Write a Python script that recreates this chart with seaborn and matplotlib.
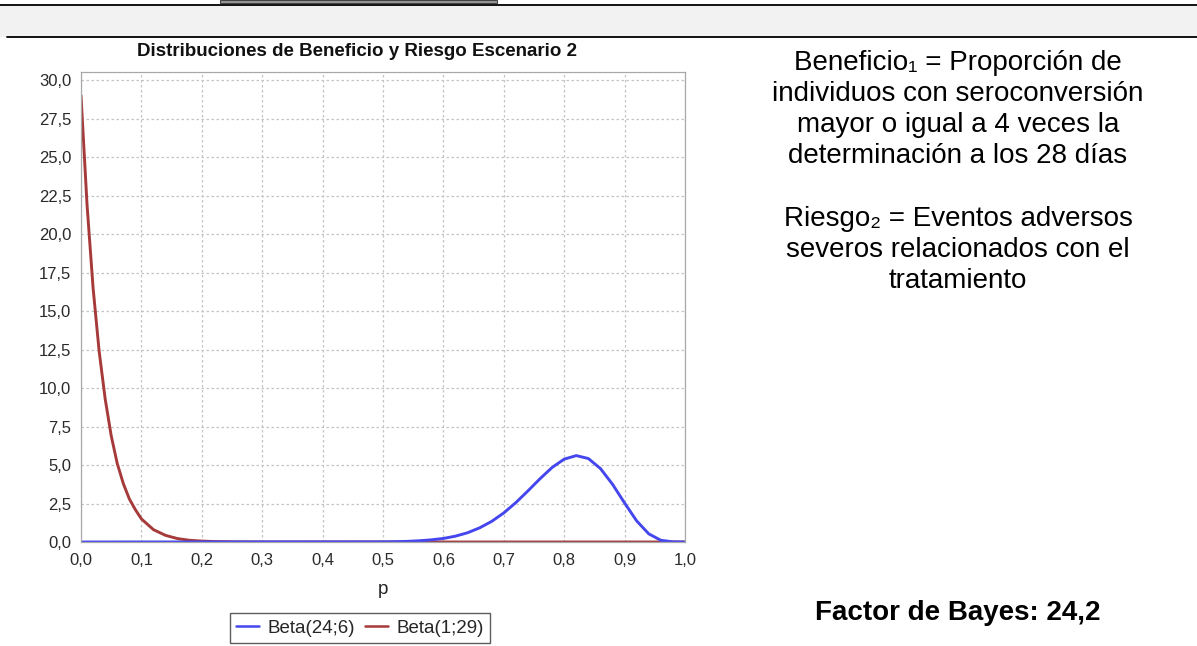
import pandas as pd
import numpy as np
import matplotlib
matplotlib.use("Agg")
import matplotlib.pyplot as plt
import seaborn as sns
from matplotlib.patches import Rectangle
from matplotlib.lines import Line2D

# curvas (densidad vs p)
p_beneficio = [0.00, 0.50, 0.52, 0.54, 0.56, 0.58, 0.60, 0.62, 0.64, 0.66, 0.68,
               0.70, 0.72, 0.74, 0.76, 0.78, 0.80, 0.82, 0.84, 0.86, 0.88, 0.90,
               0.92, 0.94, 0.96, 0.98, 1.00]
d_beneficio = [0.0, 0.01, 0.02, 0.04, 0.08, 0.14, 0.23, 0.38, 0.60, 0.92, 1.34,
               1.89, 2.56, 3.32, 4.11, 4.84, 5.38, 5.61, 5.42, 4.77, 3.75, 2.53,
               1.37, 0.53, 0.11, 0.01, 0.0]

p_riesgo = [0.00, 0.01, 0.02, 0.03, 0.04, 0.05, 0.06, 0.07, 0.08, 0.09, 0.10,
            0.12, 0.14, 0.16, 0.18, 0.20, 0.22, 0.25, 0.30, 1.00]
d_riesgo = [29.0, 21.9, 16.5, 12.4, 9.3, 6.9, 5.1, 3.8, 2.8, 2.1, 1.5,
            0.8, 0.43, 0.22, 0.11, 0.06, 0.03, 0.01, 0.0, 0.0]

series = ["Beta(24;6)", "Beta(1;29)"]
colores = {"Beta(24;6)": "#4646ee", "Beta(1;29)": "#a63a3a"}

x_ticks = [0.0, 0.1, 0.2, 0.3, 0.4, 0.5, 0.6, 0.7, 0.8, 0.9, 1.0]
x_labels = ["0,0", "0,1", "0,2", "0,3", "0,4", "0,5", "0,6", "0,7", "0,8", "0,9", "1,0"]
y_ticks = [0.0, 2.5, 5.0, 7.5, 10.0, 12.5, 15.0, 17.5, 20.0, 22.5, 25.0, 27.5, 30.0]
y_labels = ["0,0", "2,5", "5,0", "7,5", "10,0", "12,5", "15,0", "17,5", "20,0",
            "22,5", "25,0", "27,5", "30,0"]

titulo = "Distribuciones de Beneficio y Riesgo Escenario 2"
texto_derecha = ("Beneficio\u2081 = Proporción de\n"
                 "individuos con seroconversión\n"
                 "mayor o igual a 4 veces la\n"
                 "determinación a los 28 días\n"
                 "\n"
                 "Riesgo\u2082 = Eventos adversos\n"
                 "severos relacionados con el\n"
                 "tratamiento")
texto_bayes = "Factor de Bayes: 24,2"

df = pd.concat([
    pd.DataFrame({"p": p_riesgo, "densidad": d_riesgo, "serie": series[1]}),
    pd.DataFrame({"p": p_beneficio, "densidad": d_beneficio, "serie": series[0]}),
], ignore_index=True)

sns.set_style("white")
plt.rcParams["font.family"] = ["Liberation Sans", "DejaVu Sans"]

W, H = 1197, 646
fig = plt.figure(figsize=(W / 100, H / 100), dpi=100)
ax = fig.add_axes([81 / W, 1 - 542 / H, (685 - 81) / W, (542 - 72) / H])

sns.lineplot(data=df, x="p", y="densidad", hue="serie", hue_order=[series[1], series[0]],
             palette=colores, estimator=None, linewidth=2.1, ax=ax, legend=False)

ax.set_xlim(0, 1)
ax.set_ylim(0, 30.52)
ax.set_xticks(x_ticks)
ax.set_xticklabels(x_labels)
ax.set_yticks(y_ticks)
ax.set_yticklabels(y_labels)
ax.tick_params(axis="both", labelsize=12, length=3, width=0.8, color="#909090",
               colors="#2a2a2a", direction="out")
ax.tick_params(axis="y", pad=4)
ax.tick_params(axis="x", pad=5)
ax.grid(True, color="#c4c4c4", linestyle=(0, (2, 2)), linewidth=0.9)
ax.set_axisbelow(True)
for s in ax.spines.values():
    s.set_color("#a8a8a8")
    s.set_linewidth(0.9)
ax.set_xlabel("p", fontsize=13.5, color="#222222", labelpad=9)
ax.set_ylabel("")

# titulo centrado sobre la imagen del grafico
fig.text(357 / W, 1 - 52 / H, titulo, ha="center", va="center",
         fontsize=13.5, fontweight="bold", color="#111111")

# leyenda en caja
handles = [Line2D([0], [0], color=colores[s], linewidth=1.8) for s in series]
leg = fig.legend(handles, series, loc="center", bbox_to_anchor=(360 / W, 1 - 628 / H),
                 ncol=2, fontsize=13.5, frameon=True, fancybox=False,
                 handlelength=1.2, handletextpad=0.45, columnspacing=0.55,
                 borderpad=0.35, borderaxespad=0)
leg.get_frame().set_edgecolor("#333333")
leg.get_frame().set_linewidth(1.0)

# banda gris superior
fig.add_artist(Rectangle((0, 1 - 37 / H), 1, 32 / H, transform=fig.transFigure,
                         facecolor="#f2f2f2", edgecolor="none"))
fig.add_artist(Line2D([0, 1], [1 - 4.5 / H, 1 - 4.5 / H], transform=fig.transFigure,
                      color="black", linewidth=1.3))
fig.add_artist(Line2D([7 / W, 1], [1 - 37 / H, 1 - 37 / H], transform=fig.transFigure,
                      color="black", linewidth=1.3))
fig.add_artist(Rectangle((220 / W, 1 - 3 / H), 277 / W, 3 / H, transform=fig.transFigure,
                         facecolor="#9a9a9a", edgecolor="#444444", linewidth=0.8))

# textos de la derecha
fig.text(958 / W, 1 - 172 / H, texto_derecha, ha="center", va="center",
         multialignment="center", fontsize=20, linespacing=1.26, color="black")
fig.text(958 / W, 1 - 613 / H, texto_bayes, ha="center", va="center",
         fontsize=20, fontweight="bold", color="black")

fig.savefig("out.png", dpi=100)
plt.close(fig)
